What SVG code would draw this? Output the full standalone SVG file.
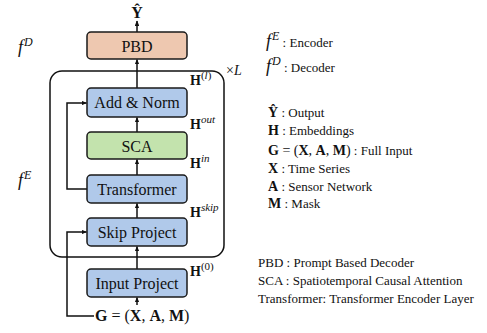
<svg xmlns="http://www.w3.org/2000/svg" width="487" height="333" viewBox="0 0 487 333">
<style>
text{fill:#111}
.box{stroke:#1a1a1a;stroke-width:1.5}
.blue{fill:#b0c9ea}
.green{fill:#c3e3ad}
.peach{fill:#eec8b0}
.lbl{font-size:16px;text-anchor:middle}
.ln{fill:none;stroke:#111;stroke-width:1.5}
.b{font-weight:bold}
.i{font-style:italic}
.h{font-size:14px}
.sup{font-size:11px}
.leg{font-size:13px}
.legm{font-size:14px}
</style>
<defs>
<marker id="ah" viewBox="0 0 10 10" refX="9" refY="5" markerWidth="5.5" markerHeight="4.5" orient="auto" markerUnits="userSpaceOnUse" preserveAspectRatio="none">
<path d="M0,0 L10,5 L0,10 Z" fill="#111"/>
</marker>
</defs>
<g id="container"><rect x="50" y="71" width="174" height="186" rx="12" class="ln"/></g>
<g id="connectors">
<line x1="137" y1="32" x2="137" y2="21" class="ln" marker-end="url(#ah)"/>
<line x1="137" y1="88" x2="137" y2="59.5" class="ln" marker-end="url(#ah)"/>
<line x1="137" y1="132" x2="137" y2="117.5" class="ln" marker-end="url(#ah)"/>
<line x1="137" y1="175" x2="137" y2="159.5" class="ln" marker-end="url(#ah)"/>
<line x1="137" y1="218" x2="137" y2="203.5" class="ln" marker-end="url(#ah)"/>
<line x1="137" y1="269" x2="137" y2="246.5" class="ln" marker-end="url(#ah)"/>
<line x1="137" y1="305" x2="137" y2="297.5" class="ln" marker-end="url(#ah)"/>
<path d="M87,189 H67 V103 H86.5" class="ln" marker-end="url(#ah)"/>
<path d="M94,316 H67 V232 H86.5" class="ln" marker-end="url(#ah)"/>
</g>
<g id="pbd"><rect x="87" y="32" width="100" height="27" rx="4" class="box peach"/><text x="137" y="51.5" class="lbl" font-family="Liberation Serif">PBD</text></g>
<g id="addnorm"><rect x="87" y="88" width="100" height="29" rx="4" class="box blue"/><text x="137" y="108" class="lbl" font-family="Liberation Serif">Add &amp; Norm</text></g>
<g id="sca"><rect x="87" y="132" width="100" height="27" rx="4" class="box green"/><text x="137" y="151.5" class="lbl" font-family="Liberation Serif">SCA</text></g>
<g id="transformer"><rect x="87" y="175" width="100" height="28" rx="4" class="box blue"/><text x="137" y="195" class="lbl" font-family="Liberation Serif">Transformer</text></g>
<g id="skip"><rect x="87" y="218" width="100" height="28" rx="4" class="box blue"/><text x="137" y="238" class="lbl" font-family="Liberation Serif">Skip Project</text></g>
<g id="input"><rect x="87" y="269" width="100" height="28" rx="4" class="box blue"/><text x="137" y="289" class="lbl" font-family="Liberation Serif">Input Project</text></g>
<g id="labels">
<text x="137" y="18" class="lbl b" font-family="Liberation Serif">Ŷ</text>
<text x="95" y="321" font-size="16" font-family="Liberation Serif"><tspan class="b">G</tspan> = (<tspan class="b">X</tspan>, <tspan class="b">A</tspan>, <tspan class="b">M</tspan>)</text>
<text x="18" y="53" font-size="18" class="i" font-family="Liberation Serif">f<tspan dx="1" dy="-7" font-size="12">D</tspan></text>
<text x="18" y="186" font-size="18" class="i" font-family="Liberation Serif">f<tspan dx="1" dy="-7" font-size="12">E</tspan></text>
<text x="226" y="75" font-size="14" font-family="Liberation Serif">×<tspan class="i">L</tspan></text>
<text x="190" y="85" class="h" font-family="Liberation Serif"><tspan class="b">H</tspan><tspan class="sup" dy="-6">(<tspan class="i">l</tspan>)</tspan></text>
<text x="190" y="129" class="h" font-family="Liberation Serif"><tspan class="b">H</tspan><tspan class="sup i" dy="-6">out</tspan></text>
<text x="190" y="168" class="h" font-family="Liberation Serif"><tspan class="b">H</tspan><tspan class="sup i" dy="-6">in</tspan></text>
<text x="190" y="217" class="h" font-family="Liberation Serif"><tspan class="b">H</tspan><tspan class="sup i" dy="-6">skip</tspan></text>
<text x="190" y="276" class="h" font-family="Liberation Serif"><tspan class="b">H</tspan><tspan class="sup" dy="-6">(0)</tspan></text>
</g>
<g id="legend">
<text x="266" y="47" font-size="18" class="i" font-family="Liberation Serif">f<tspan dx="1" dy="-7" font-size="12">E</tspan><tspan dy="7" font-size="13" font-style="normal"> : Encoder</tspan></text>
<text x="266" y="72" font-size="18" class="i" font-family="Liberation Serif">f<tspan dx="1" dy="-7" font-size="12">D</tspan><tspan dy="7" font-size="13" font-style="normal"> : Decoder</tspan></text>
<text x="268" y="117" class="leg" font-family="Liberation Serif"><tspan class="b legm">Ŷ</tspan>  : Output</text>
<text x="268" y="135" class="leg" font-family="Liberation Serif"><tspan class="b legm">H</tspan> : Embeddings</text>
<text x="268" y="155" class="leg" font-family="Liberation Serif"><tspan class="legm"><tspan class="b">G</tspan> = (<tspan class="b">X</tspan>, <tspan class="b">A</tspan>, <tspan class="b">M</tspan>)</tspan> : Full Input</text>
<text x="268" y="173" class="leg" font-family="Liberation Serif"><tspan class="b legm">X</tspan> : Time Series</text>
<text x="268" y="191" class="leg" font-family="Liberation Serif"><tspan class="b legm">A</tspan> : Sensor Network</text>
<text x="268" y="208" class="leg" font-family="Liberation Serif"><tspan class="b legm">M</tspan> : Mask</text>
<text x="258" y="267" class="leg" font-family="Liberation Serif">PBD : Prompt Based Decoder</text>
<text x="258" y="285" class="leg" font-family="Liberation Serif">SCA : Spatiotemporal Causal Attention</text>
<text x="258" y="303" class="leg" font-family="Liberation Serif">Transformer: Transformer Encoder Layer</text>
</g>
</svg>
